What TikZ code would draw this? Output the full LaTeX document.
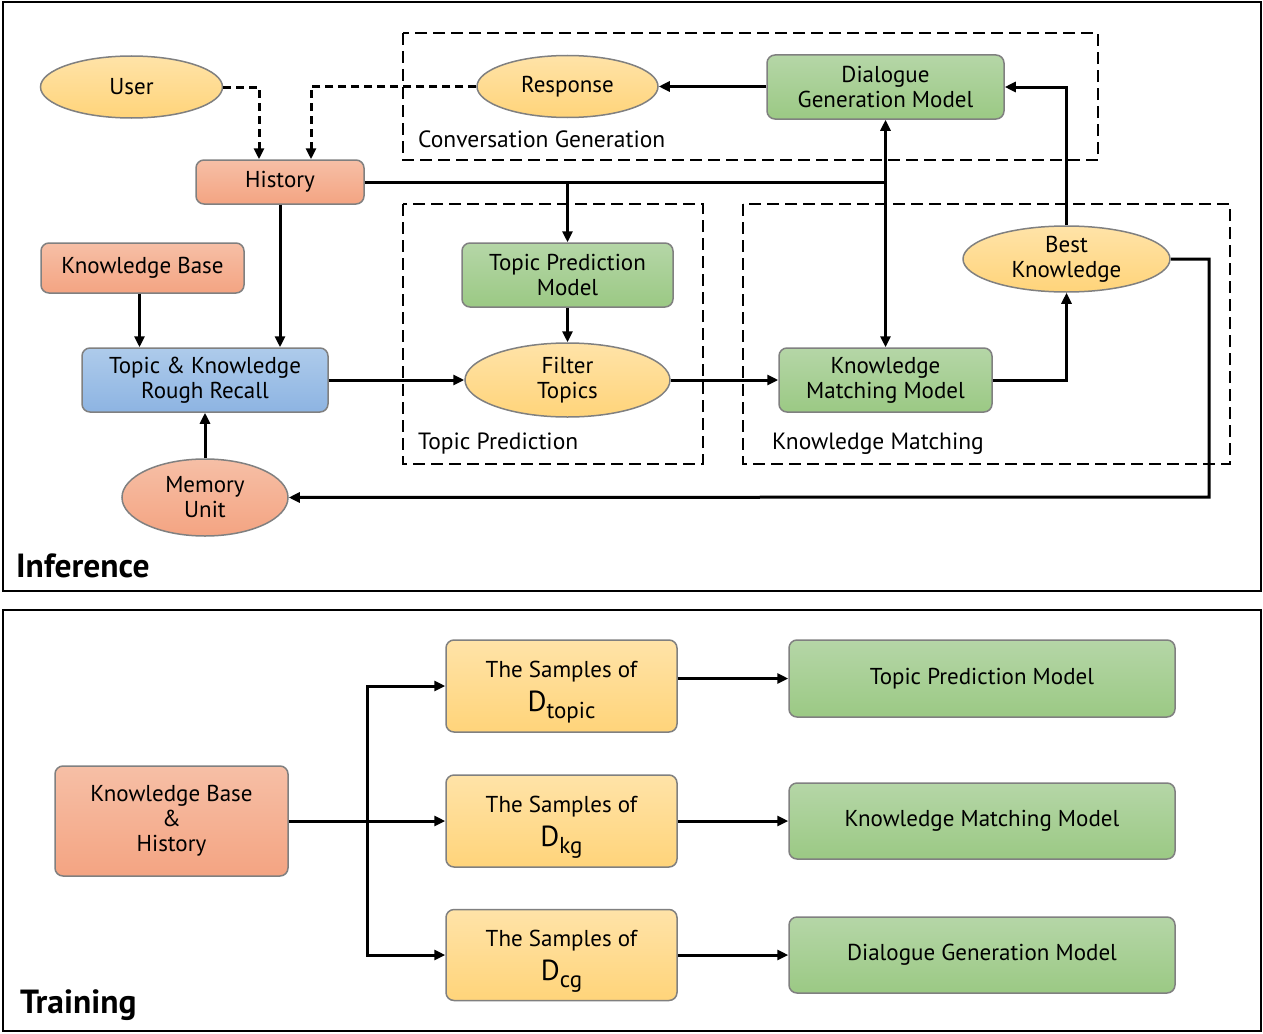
\documentclass[tikz,border=0pt]{standalone}
\usepackage{fontspec}
\setmainfont{PT Sans}
\usetikzlibrary{arrows.meta,shapes.geometric}
\definecolor{ytop}{HTML}{FFE3A8}
\definecolor{ybot}{HTML}{FFD47A}
\definecolor{stop}{HTML}{F6BFA6}
\definecolor{sbot}{HTML}{F4A482}
\definecolor{gtop}{HTML}{B5D6A7}
\definecolor{gbot}{HTML}{9BC984}
\definecolor{btop}{HTML}{AECBEB}
\definecolor{bbot}{HTML}{8DB4E2}
\definecolor{bord}{HTML}{808080}
\newcommand{\bigD}[1]{{\fontsize{29}{29}\selectfont D}\raisebox{-7pt}[0pt][0pt]{#1}}
\tikzset{
  base/.style={draw=bord, line width=1.5pt, align=center, inner sep=0pt,
    font=\fontsize{23}{25}\selectfont},
  rbox/.style={base, rectangle, rounded corners=8pt},
  ell/.style={base, ellipse},
  yel/.style={top color=ytop, bottom color=ybot},
  sal/.style={top color=stop, bottom color=sbot},
  grn/.style={top color=gtop, bottom color=gbot},
  blu/.style={top color=btop, bottom color=bbot},
  arr/.style={line width=3pt, -{Triangle[length=11pt,width=10pt]}},
  conn/.style={line width=3pt},
  darr/.style={line width=3pt, dash pattern=on 8pt off 5pt, -{Triangle[length=11pt,width=10pt]}},
  group/.style={line width=1.5pt, dash pattern=on 12pt off 6pt},
  frame/.style={line width=2pt},
  glabel/.style={anchor=west, inner sep=0pt, font=\fontsize{23.5}{25}\selectfont},
  title/.style={anchor=west, inner sep=0pt, font=\bfseries\fontsize{33.5}{36}\selectfont},
}
\begin{document}
\begin{tikzpicture}[x=1pt,y=-1pt]
\useasboundingbox (0,0) rectangle (1263,1033);
% frames
\draw[frame] (3,2) rectangle (1261,591);
\draw[frame] (3,610) rectangle (1261,1031);
% dashed groups
\draw[group] (403,33) rectangle (1098,160);
\draw[group] (403,204) rectangle (703,464);
\draw[group] (743,204) rectangle (1230,464);
\node[glabel] (lcg) at (418,139) {Conversation Generation};
\node[glabel] (ltp) at (418,444) {Topic Prediction};
\node[glabel] (lkm) at (772,444) {Knowledge Matching};
\node[title] (tinf) at (16,566) {Inference};
\node[title] (ttr) at (20,1005) {Training};
% inference nodes
\node[ell, yel, minimum width=182pt, minimum height=62pt] (user) at (131.5,87) {User};
\node[ell, yel, minimum width=181pt, minimum height=62pt] (resp) at (567.5,86.5) {Response};
\node[rbox, grn, minimum width=237pt, minimum height=64pt] (dgm) at (885.5,87) {Dialogue\\Generation Model};
\node[rbox, sal, minimum width=168pt, minimum height=44pt] (hist) at (280,182) {History};
\node[rbox, sal, minimum width=203pt, minimum height=50pt] (kb) at (142.5,268) {Knowledge Base};
\node[rbox, blu, minimum width=246pt, minimum height=64pt] (rr) at (205,380) {Topic \& Knowledge\\Rough Recall};
\node[ell, sal, minimum width=166pt, minimum height=77pt] (mem) at (205,497.5) {Memory\\Unit};
\node[rbox, grn, minimum width=211pt, minimum height=64pt] (tpm) at (567.5,275) {Topic Prediction\\Model};
\node[ell, yel, minimum width=205pt, minimum height=74pt] (ft) at (567.5,380) {Filter\\Topics};
\node[rbox, grn, minimum width=213pt, minimum height=64pt] (kmm) at (885.5,380) {Knowledge\\Matching Model};
\node[ell, yel, minimum width=207pt, minimum height=66pt] (bk) at (1066.5,259) {Best\\Knowledge};
% inference connectors
\draw[darr] (user.east) -| ([xshift=-21pt]hist.north);
\draw[darr] (resp.west) -| ([xshift=31pt]hist.north);
\draw[arr] (dgm.west |- resp.east) -- (resp.east);
\draw[conn] (hist.east) -- (hist.east -| dgm.south);
\draw[arr] (hist.east -| tpm.north) -- (tpm.north);
\draw[arr] (hist.east -| dgm.south) -- (dgm.south);
\draw[arr] (hist.east -| kmm.north) -- (kmm.north);
\draw[arr] ([xshift=-3pt]kb.south) -- ([xshift=-3pt]kb.south |- rr.north);
\draw[arr] (hist.south) -- (hist.south |- rr.north);
\draw[arr] (mem.north) -- (rr.south);
\draw[arr] (rr.east) -- (ft.west);
\draw[arr] (tpm.south) -- (ft.north);
\draw[arr] (ft.east) -- (kmm.west);
\draw[arr] (kmm.east) -| (bk.south);
\draw[arr] (bk.north) |- (dgm.east);
\coordinate (fb) at (1209,497);
\draw[arr] (bk.east) -| (fb) -- (mem.east);
% training nodes
\node[rbox, sal, minimum width=233pt, minimum height=110pt] (kbh) at (171.5,821) {Knowledge Base\\\&\\History};
\node[rbox, yel, minimum width=231pt, minimum height=92pt] (s1) at (561.5,686) {The Samples of\\[8pt]\bigD{topic}};
\node[rbox, yel, minimum width=231pt, minimum height=92pt] (s2) at (561.5,821) {The Samples of\\[8pt]\bigD{kg}};
\node[rbox, yel, minimum width=231pt, minimum height=91pt] (s3) at (561.5,955) {The Samples of\\[8pt]\bigD{cg}};
\node[rbox, grn, minimum width=386pt, minimum height=77pt] (m1) at (982,678.5) {Topic Prediction Model};
\node[rbox, grn, minimum width=386pt, minimum height=76pt] (m2) at (982,821) {Knowledge Matching Model};
\node[rbox, grn, minimum width=386pt, minimum height=76pt] (m3) at (982,955) {Dialogue Generation Model};
% training connectors
\coordinate (split) at (367,821);
\draw[arr] (kbh.east) -- (s2.west);
\draw[arr] (split) |- (s1.west);
\draw[arr] (split) |- (s3.west);
\draw[arr] (s1.east |- m1.west) -- (m1.west);
\draw[arr] (s2.east) -- (m2.west);
\draw[arr] (s3.east) -- (m3.west);
\end{tikzpicture}
\end{document}
